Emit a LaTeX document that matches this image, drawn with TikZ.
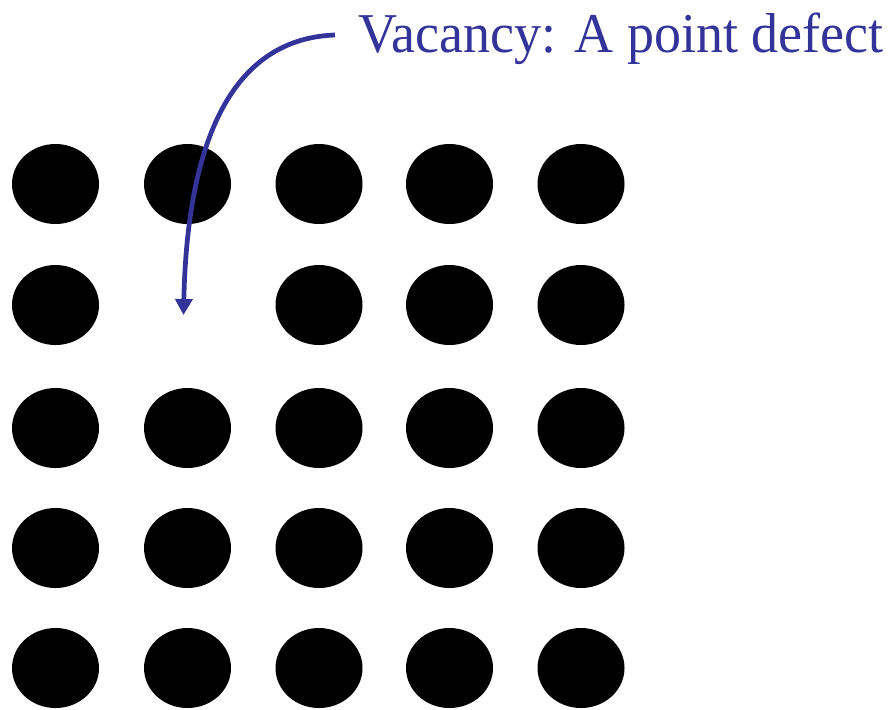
\documentclass[tikz,border=0pt]{standalone}
\usepackage{fontspec}
\setmainfont{Liberation Serif}
\usetikzlibrary{arrows.meta,shapes.geometric}
\definecolor{labelblue}{HTML}{333399}
\begin{document}
\begin{tikzpicture}[x=1cm,y=1cm,
  atom/.style={ellipse,fill=black,minimum width=0.87cm,minimum height=0.80cm,inner sep=0pt},
  lbl/.style={text=labelblue,font=\fontsize{16}{19}\selectfont,inner sep=0pt,anchor=base west},
  pointer/.style={draw=labelblue,line width=1.35pt,-{Triangle[width=0.17cm,length=0.16cm]}}]
\useasboundingbox (0,0) rectangle (8.93,7.09);
\foreach \c/\x in {1/0.555,2/1.875,3/3.19,4/4.495,5/5.81}{
  \foreach \r/\y in {1/5.25,2/4.04,3/2.81,4/1.61,5/0.41}{
    \ifnum\c=2 \ifnum\r=2 \else \node[atom] (a\r\c) at (\x,\y) {}; \fi
    \else \node[atom] (a\r\c) at (\x,\y) {}; \fi
  }
}
\node[lbl] (label) at (3.58,6.57) {\scalebox{0.96}[1]{Vacancy: A point defect}};
\coordinate (start) at (3.35,6.74);
\coordinate (vac) at (1.835,3.94);
\draw[pointer] (start) .. controls (2.5,6.71) and (1.88,6.0) .. (vac);
\end{tikzpicture}
\end{document}
